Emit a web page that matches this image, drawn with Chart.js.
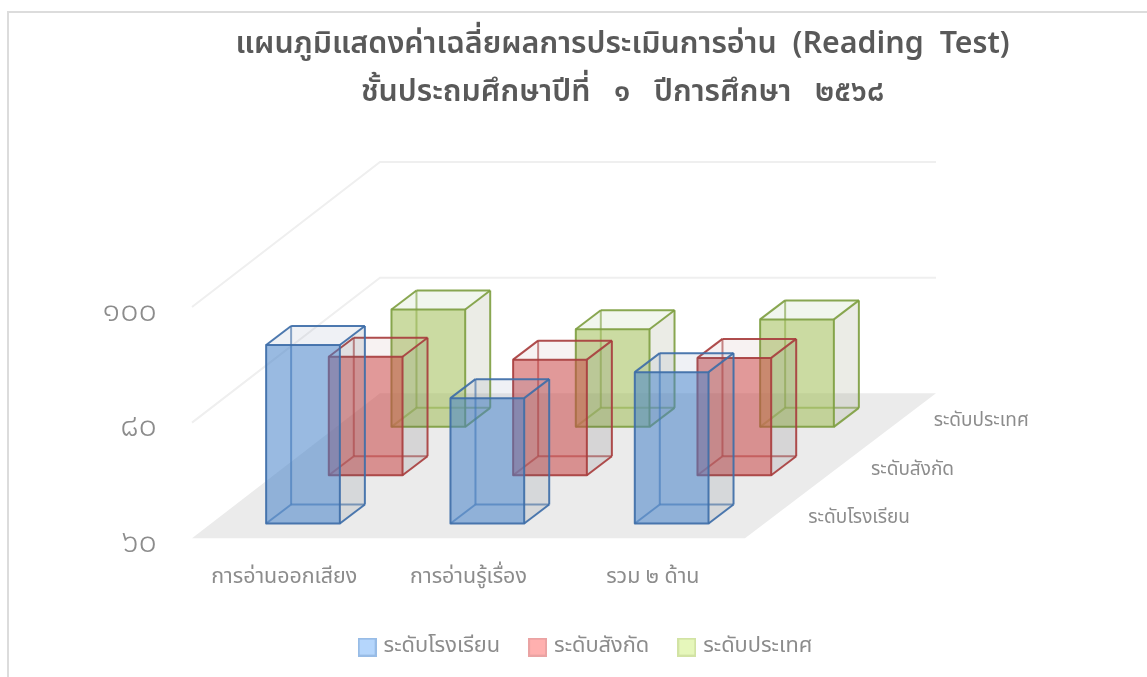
<!DOCTYPE html>
<html><head><meta charset="utf-8">
<style>html,body{margin:0;padding:0;background:#fff}canvas{display:block}</style>
<script src="https://cdn.jsdelivr.net/npm/chart.js@4"></script>
</head><body><canvas id="c" width="1147" height="677"></canvas>
<script>
const categories = ['การอ่านออกเสียง', 'การอ่านรู้เรื่อง', 'รวม ๒ ด้าน'];
const seriesNames = ['ระดับโรงเรียน', 'ระดับสังกัด', 'ระดับประเทศ'];
const schoolValues = [90.9, 81.7, 86.2];
const districtValues = [80.5, 80.0, 80.3];
const nationalValues = [80.3, 76.9, 78.6];
const yTickLabels = {60: '๖๐', 80: '๘๐', 100: '๑๐๐'};
const titleLines = ['แผนภูมิแสดงค่าเฉลี่ยผลการประเมินการอ่าน  (Reading  Test)', 'ชั้นประถมศึกษาปีที่   ๑   ปีการศึกษา   ๒๕๖๘'];
const FONT = '"Noto Sans Thai","Noto Sans","DejaVu Sans",sans-serif';
const DEPTH = {x: 188, y: -145};
const BOX = {x: 25, y: -19};
const rgb = [[70,130,200],[200,70,70],[160,190,85]];
const edge = ['62,110,168','168,62,62','127,159,66'];
const topTint = ['100,115,160,.1','150,90,90,.08','130,170,90,.11'];
const sideTint = ['80,90,110,.13','80,70,80,.13','100,110,60,.13'];
const legendFill = ['#b5d6fc','#ffb0af','#e6f7bb'];
const legendLine = ['#98bce6','#eaa3a3','#d2e3a4'];

function swatch(i) {
  const s = document.createElement('canvas');
  s.width = 19; s.height = 19;
  const g = s.getContext('2d');
  g.fillStyle = legendFill[i]; g.strokeStyle = legendLine[i]; g.lineWidth = 2;
  g.fillRect(1, 1, 17, 17); g.strokeRect(1, 1, 17, 17);
  return s;
}

const box3d = {
  id: 'box3d',
  afterLayout(chart) {
    const t = chart.titleBlock; t.left = 98; t.right = 1147;
    const l = chart.legend, w = l.right - l.left, c = 587;
    l.left = c - w / 2; l.right = c + w / 2;
  },
  beforeDatasetsDraw(chart) {
    const {ctx, chartArea: a, scales: {y}} = chart;
    ctx.save();
    const y0 = y.getPixelForValue(y.min);
    ctx.fillStyle = '#ebebeb';
    ctx.beginPath();
    ctx.moveTo(a.left, y0); ctx.lineTo(a.right, y0);
    ctx.lineTo(a.right + DEPTH.x + 3, y0 + DEPTH.y);
    ctx.lineTo(a.left + DEPTH.x, y0 + DEPTH.y);
    ctx.closePath(); ctx.fill();
    ctx.strokeStyle = '#efefef'; ctx.lineWidth = 2;
    y.ticks.forEach(t => {
      if (t.value === y.min) return;
      const py = y.getPixelForValue(t.value);
      ctx.beginPath();
      ctx.moveTo(a.left, py);
      ctx.lineTo(a.left + DEPTH.x, py + DEPTH.y);
      ctx.lineTo(a.right + DEPTH.x + 3, py + DEPTH.y);
      ctx.stroke();
    });
    // depth-axis series labels
    ctx.fillStyle = '#8c8c8c';
    ctx.font = '19px ' + FONT;
    ctx.textBaseline = 'middle'; ctx.textAlign = 'left';
    seriesNames.forEach((n, i) => {
      const f = (i + .5) / 3;
      ctx.fillText(n, a.right + DEPTH.x * f + 32, y0 + DEPTH.y * f + 5);
    });
    // frame
    ctx.strokeStyle = '#dcdcdc'; ctx.lineWidth = 2;
    ctx.beginPath(); ctx.moveTo(8, 677); ctx.lineTo(8, 12); ctx.lineTo(1147, 12); ctx.stroke();
    ctx.restore();
  },
  beforeDatasetDraw(chart, args) {
    const {ctx} = chart, i = args.index, c = rgb[i], f = (i + .5) / 3;
    const ox = DEPTH.x * f - BOX.x / 2, oy = DEPTH.y * f - BOX.y / 2;
    args.meta.data.forEach(el => {
      const L = el.x - el.width / 2 + ox, R = el.x + el.width / 2 + ox;
      const T = el.y + oy, B = el.base + oy;
      const dx = BOX.x, dy = BOX.y;
      const poly = (pts, fill) => {
        ctx.beginPath();
        pts.forEach((p, k) => k ? ctx.lineTo(p[0], p[1]) : ctx.moveTo(p[0], p[1]));
        ctx.closePath();
        if (fill) { ctx.fillStyle = fill; ctx.fill(); }
      };
      const seg = (a, b) => { ctx.beginPath(); ctx.moveTo(a[0], a[1]); ctx.lineTo(b[0], b[1]); ctx.stroke(); };
      ctx.save();
      ctx.lineJoin = 'round';
      // back edges
      ctx.lineWidth = 2; ctx.strokeStyle = `rgba(${edge[i]},.62)`;
      seg([L + dx, T + dy], [L + dx, B + dy]);
      seg([L + dx, B + dy], [R + dx, B + dy]);
      seg([L, B], [L + dx, B + dy]);
      // side and top
      poly([[R, T], [R + dx, T + dy], [R + dx, B + dy], [R, B]], `rgba(${sideTint[i]})`);
      poly([[L, T], [L + dx, T + dy], [R + dx, T + dy], [R, T]], `rgba(${topTint[i]})`);
      // front
      poly([[L, T], [R, T], [R, B], [L, B]], `rgba(${c.join(',')},.55)`);
      // front edges
      ctx.lineWidth = 2; ctx.strokeStyle = `rgba(${edge[i]},.92)`;
      poly([[L, T], [R, T], [R, B], [L, B]]); ctx.stroke();
      seg([R, B], [R + dx, B + dy]);
      seg([R, T], [R + dx, T + dy]);
      seg([L, T], [L + dx, T + dy]);
      seg([L + dx, T + dy], [R + dx, T + dy]);
      seg([R + dx, T + dy], [R + dx, B + dy]);
      ctx.restore();
    });
    return false;
  }
};

const mk = (name, data, i) => ({
  label: name, data, base: 60,
  backgroundColor: `rgb(${rgb[i].join(',')})`,
  borderColor: `rgb(${edge[i]})`,
  barPercentage: 0.4, categoryPercentage: 1
});

new Chart(document.getElementById('c'), {
  type: 'bar',
  plugins: [box3d],
  data: {
    labels: categories,
    datasets: [mk(seriesNames[0], schoolValues, 0), mk(seriesNames[1], districtValues, 1), mk(seriesNames[2], nationalValues, 2)]
  },
  options: {
    responsive: false, animation: false, devicePixelRatio: 1,
    datasets: {bar: {grouped: false}},
    layout: {padding: {left: 98, right: 402, top: 0, bottom: 9}},
    scales: {
      x: {
        grid: {display: false}, border: {display: false},
        ticks: {color: '#8c8c8c', font: {family: FONT, size: 21.4}, padding: 20, maxRotation: 0},
        afterFit(s) { s.height = 66; }
      },
      y: {
        min: 60, max: 100,
        grid: {display: false}, border: {display: false},
        ticks: {stepSize: 20, color: '#8c8c8c', font: {family: FONT, size: 32.5, weight: 300}, padding: 27, labelOffset: 7,
                callback: v => yTickLabels[v] || ''},
        afterFit(s) { s.width = 94; }
      }
    },
    plugins: {
      tooltip: {enabled: false},
      title: {display: true, text: titleLines, color: '#595959',
              font: {family: FONT, size: 30.4, weight: 600, lineHeight: 1.58},
              padding: {top: 23, bottom: 188}},
      legend: {position: 'bottom',
        labels: {color: '#8c8c8c', font: {family: FONT, size: 21.8}, usePointStyle: true, pointStyleWidth: 11, boxHeight: 18, padding: 32,
          generateLabels: ch => ch.data.datasets.map((d, i) => ({text: d.label, pointStyle: swatch(i), fillStyle: legendFill[i], strokeStyle: legendLine[i], lineWidth: 1.5, datasetIndex: i, fontColor: '#8c8c8c'}))}}
    }
  }
});
</script></body></html>
